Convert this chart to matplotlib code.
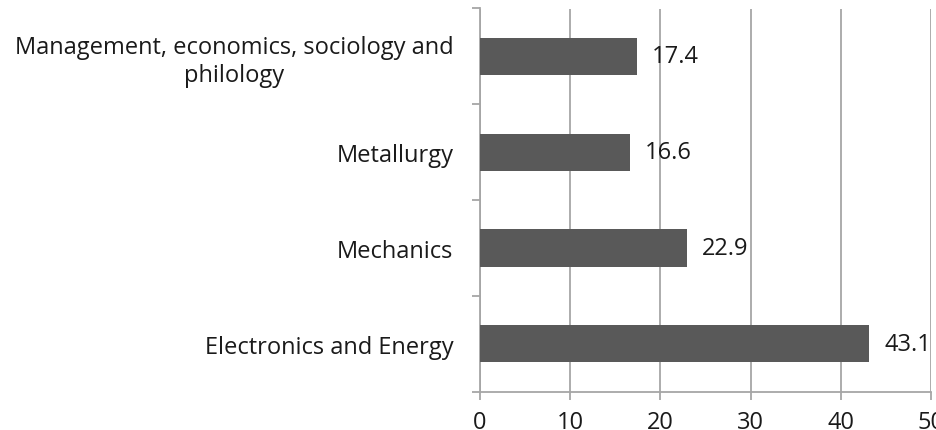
import matplotlib
matplotlib.use("Agg")
import matplotlib.pyplot as plt
import numpy as np

categories = ["Electronics and Energy", "Mechanics", "Metallurgy",
              "Management, economics, sociology and\nphilology"]
values = [43.1, 22.9, 16.6, 17.4]
xticks = [0, 10, 20, 30, 40, 50]

plt.rcParams['font.family'] = ['Open Sans', 'DejaVu Sans']
FS = 17

fig = plt.figure(figsize=(9.36, 4.31), dpi=100)
ax = fig.add_axes([480/936, 1-392.7/431, (931-480)/936, (392.7-9.5)/431])

grey = '#a6a6a6'
txt = '#1a1a1a'
y = np.arange(len(categories))
ax.barh(y, values, height=0.39, color='#595959', zorder=3)
for yi, v in zip(y, values):
    ax.text(v + 1.7, yi, f"{v:.1f}", va='center', ha='left', fontsize=FS, color=txt, zorder=4)

ax.set_xlim(0, 50)
ax.set_ylim(-0.5, len(categories) - 0.5)
ax.set_xticks(xticks)
ax.set_xticklabels([str(t) for t in xticks], fontsize=FS, color=txt)
ax.xaxis.grid(True, color=grey, linewidth=1.3, zorder=0)
ax.set_axisbelow(True)

ax.set_yticks(y)
ax.set_yticklabels(categories, fontsize=FS, color=txt, ha='right',
                   multialignment='center', linespacing=1.2)
ax.set_yticks(np.arange(len(categories) + 1) - 0.5, minor=True)
ax.tick_params(axis='y', which='major', length=0, pad=19)
ax.tick_params(axis='y', which='minor', length=6, width=1.3, color=grey)
ax.tick_params(axis='x', which='major', length=6, width=1.3, color=grey, pad=7)

for s in ['top', 'right']:
    ax.spines[s].set_visible(False)
for s in ['left', 'bottom']:
    ax.spines[s].set_color(grey)
    ax.spines[s].set_linewidth(1.3)

fig.savefig("out.png", dpi=100)
